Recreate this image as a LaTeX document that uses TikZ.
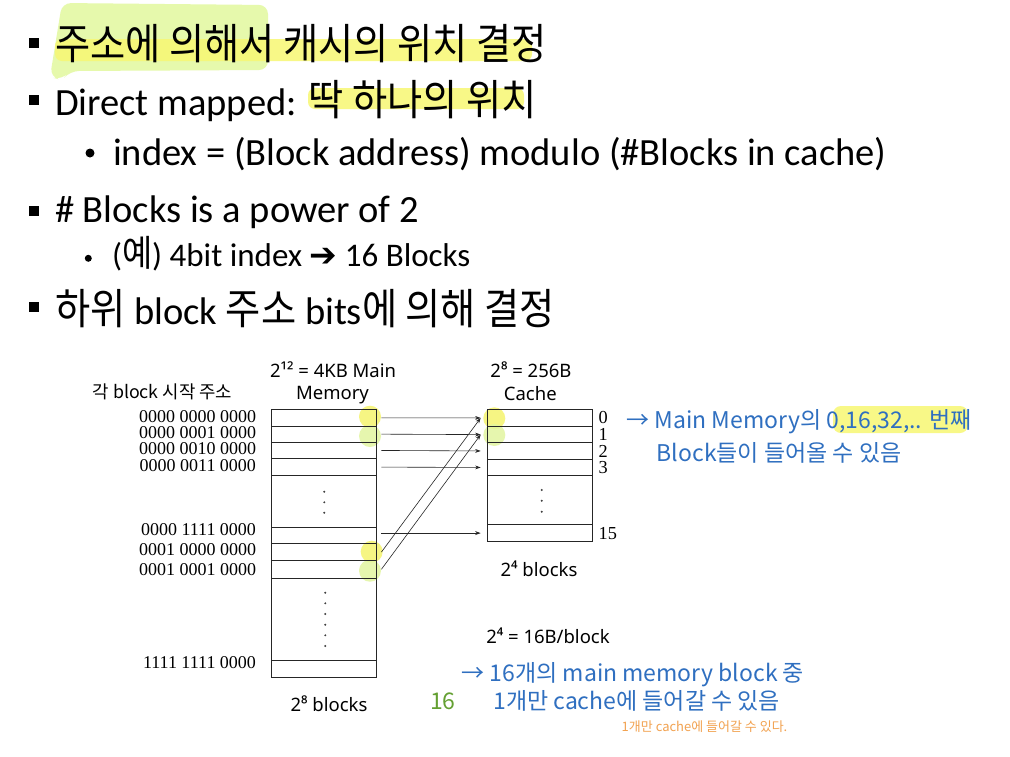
\documentclass[tikz,border=0pt]{standalone}
\usepackage{fontspec}
\usetikzlibrary{arrows.meta,calc}
\setmainfont{Carlito}
\newfontfamily\krs[FakeStretch=0.9]{Noto Sans CJK KR}
\newfontfamily\krn{Noto Sans CJK KR}
\newfontfamily\tnr{Liberation Serif}
\newfontfamily\djv{DejaVu Sans}
\newfontfamily\cmc{Noto Sans}
\newcommand\szA{\fontsize{38.5}{46}\selectfont}
\newcommand\szK{\fontsize{42.5}{50}\selectfont}
\newcommand\szB{\fontsize{33}{40}\selectfont}
\newcommand\szBK{\fontsize{36.5}{42}\selectfont}
\newcommand\ko[1]{{\krs\szK #1}}
\newcommand\kob[1]{{\krs\szBK #1}}
\definecolor{lassocol}{RGB}{230,249,172}
\definecolor{bandcol}{RGB}{247,247,115}
\definecolor{hlyellow}{RGB}{245,244,110}
\definecolor{hllime}{RGB}{226,245,160}
\definecolor{noteblue}{RGB}{47,111,192}
\definecolor{notegreen}{RGB}{100,160,50}
\definecolor{noteorange}{RGB}{242,162,80}
\begin{document}
\begin{tikzpicture}[x=1pt,y=-1pt,
  txt/.style={inner sep=0pt, outer sep=0pt},
  memrow/.style={draw=black!85, line width=0.9pt, minimum width=105pt, inner sep=0pt, anchor=north west},
  arr/.style={-{Stealth[length=5.5pt,width=3.8pt]}, line width=0.6pt, draw=black!85},
  addr/.style={txt, anchor=east, font=\tnr\fontsize{18}{20}\selectfont},
  idx/.style={txt, anchor=west, font=\tnr\fontsize{18.3}{20}\selectfont},
  lbl/.style={txt, anchor=base, font=\cmc\fontsize{18.5}{20}\selectfont},
  sqb/.style={fill=black, minimum size=10pt, inner sep=0pt},
  dotb/.style={circle, fill=black, inner sep=0pt},
  smalldot/.style={circle, fill=black!75, inner sep=0pt, minimum size=2.2pt},
  hy/.style={fill=hlyellow, opacity=0.85},
  hl/.style={fill=hllime, opacity=0.85},
  band/.style={fill=bandcol, opacity=0.85},
  note/.style={txt, anchor=base west, text=noteblue, font=\krn\fontsize{23}{28}\selectfont},
  main/.style={txt, anchor=base west}
]
\useasboundingbox (0,0) rectangle (1010,756);
\fill[white] (0,0) rectangle (1010,756);

% ---- highlights in the text part
\fill[lassocol, rounded corners=9pt] (50,77) -- (62,3) -- (268,5) -- (268,70) -- (70,71) -- (62,80) -- cycle;
\fill[band, rounded corners=7pt] (55,39) rectangle (532,61);
\fill[band, rounded corners=7pt] (308,88) rectangle (524,109);
\fill[band, rounded corners=8pt] (833,406) rectangle (968,433);

% ---- bullets
\node[sqb] (b1) at (33.5,42.5) {};
\node[sqb] (b2) at (33.5,100) {};
\node[dotb, minimum size=9pt] (b3) at (90,153) {};
\node[sqb] (b4) at (33.5,211) {};
\node[dotb, minimum size=7pt] (b5) at (88.3,258.3) {};
\node[sqb] (b6) at (33.5,306.5) {};

% ---- text lines
\node[main] (t1) at (55,59.3) {\ko{주소에 의해서 캐시의 위치 결정}};
\node[main] (t2) at (55,115) {\szA Direct mapped: \ko{딱 하나의 위치}};
\node[main] (t3) at (113,165) {\szA index = (Block address) modulo (\#Blocks in cache)};
\node[main] (t4) at (55,222) {\szA \# Blocks is a power of 2};
\node[main] (t5) at (112,266) {\szB (\kob{예}) 4bit index {\djv ➔} 16 Blocks};
\node[main] (t6) at (55,324) {\szA \ko{하위} block \ko{주소} bits\ko{에 의해 결정}};

% ---- yellow circles in the diagram
\fill[hy] (370,416.7) circle (11pt);
\fill[hl] (370,436) circle (11pt);
\fill[hy] (371.7,551.7) circle (11pt);
\fill[hl] (370,570.7) circle (11pt);
\fill[hy] (494.3,418.3) circle (11pt);
\fill[hl] (494.3,435) circle (11pt);

% ---- main memory
\node[memrow, minimum height=16.7pt] (m0) at (270.5,409) {};
\node[memrow, minimum height=16pt] (m1) at (270.5,425.7) {};
\node[memrow, minimum height=16.6pt] (m2) at (270.5,441.7) {};
\node[memrow, minimum height=16.7pt] (m3) at (270.5,458.3) {};
\node[memrow, minimum height=51.7pt] (mg1) at (270.5,475) {};
\node[memrow, minimum height=16.6pt] (m15) at (270.5,526.7) {};
\node[memrow, minimum height=16.7pt] (m16) at (270.5,543.3) {};
\node[memrow, minimum height=17.7pt] (m17) at (270.5,560) {};
\node[memrow, minimum height=82.3pt] (mg2) at (270.5,577.7) {};
\node[memrow, minimum height=17pt] (mlast) at (270.5,660) {};

% ---- cache
\node[memrow, minimum height=17pt] (c0) at (486.7,409) {};
\node[memrow, minimum height=16.3pt] (c1) at (486.7,426) {};
\node[memrow, minimum height=16.4pt] (c2) at (486.7,442.3) {};
\node[memrow, minimum height=16.6pt] (c3) at (486.7,458.7) {};
\node[memrow, minimum height=49pt] (cg) at (486.7,475.3) {};
\node[memrow, minimum height=16.7pt] (c15) at (486.7,524.3) {};

% ---- dots
\foreach \yy in {491.7,502.3,512.7} \node[smalldot] at (324.3,\yy) {};
\foreach \yy in {490,500.7,511.7} \node[smalldot] at (541.7,\yy) {};
\foreach \yy in {592.7,603.3,614,624.7,635.3,646} \node[smalldot] at (325.3,\yy) {};

% ---- arrows
\draw[arr] ([xshift=5pt]m0.east) -- ([xshift=-6pt]c0.west);
\draw[arr] ([xshift=5pt]m1.east) -- ([xshift=-6pt]c1.west);
\draw[arr] ([xshift=5pt]m2.east) -- ([xshift=-6pt]c2.west);
\draw[arr] ([xshift=5pt]m3.east) -- ([xshift=-6pt]c3.west);
\draw[arr] ($(m15.east |- c15.west)+(5,0)$) -- ([xshift=-6pt]c15.west);
\draw[arr] ([xshift=5pt]m16.east) -- ([xshift=-6pt]c0.west);
\draw[arr] ([xshift=5pt]m17.east) -- ([xshift=-6pt]c1.west);

% ---- address labels
\node[txt, anchor=base west, font=\krn\fontsize{17.8}{20}\selectfont] (hdr) at (92.7,398) {각 block 시작 주소};
\node[addr] (a0) at (256,416.7) {0000 0000 0000};
\node[addr] (a1) at (256,433) {0000 0001 0000};
\node[addr] (a2) at (256,449) {0000 0010 0000};
\node[addr] (a3) at (256,466) {0000 0011 0000};
\node[addr] (a15) at (256,530) {0000 1111 0000};
\node[addr] (a16) at (256,550) {0001 0000 0000};
\node[addr] (a17) at (256,570) {0001 0001 0000};
\node[addr] (alast) at (256,663) {1111 1111 0000};

% ---- cache index labels
\node[idx] (i0) at ([xshift=6pt]c0.east) {0};
\node[idx] (i1) at ([xshift=6pt]c1.east) {1};
\node[idx] (i2) at ([xshift=6pt]c2.east) {2};
\node[idx] (i3) at ([xshift=6pt]c3.east) {3};
\node[idx] (i15) at ([xshift=6pt]c15.east) {15};

% ---- diagram titles
\node[lbl] (mt1) at (333,377.3) {2¹² = 4KB Main};
\node[lbl] (mt2) at (332.5,399.3) {Memory};
\node[lbl] (ct1) at (531,377.3) {2⁸ = 256B};
\node[lbl] (ct2) at (530.3,400) {Cache};
\node[lbl] (cb) at (539,576) {2⁴ blocks};
\node[lbl] (bs) at (548,643) {2⁴ = 16B/block};
\node[lbl] (mb) at (329,711.5) {2⁸ blocks};

% ---- notes
\node[note] (n1) at (626.7,428.3) {→ Main Memory의 0,16,32,.. 번째};
\node[note] (n2) at (656.7,461.7) {Block들이 들어올 수 있음};
\node[note] (n3) at (461.7,681.7) {→ 16개의 main memory block 중};
\node[note] (n4) at (493.3,709.5) {1개만 cache에 들어갈 수 있음};
\node[note, text=notegreen] (n5) at (430,709.5) {16};
\node[note, text=noteorange, font=\krn\fontsize{13}{15}\selectfont] (n6) at (621.7,731) {1개만 cache에 들어갈 수 있다.};
\end{tikzpicture}
\end{document}
